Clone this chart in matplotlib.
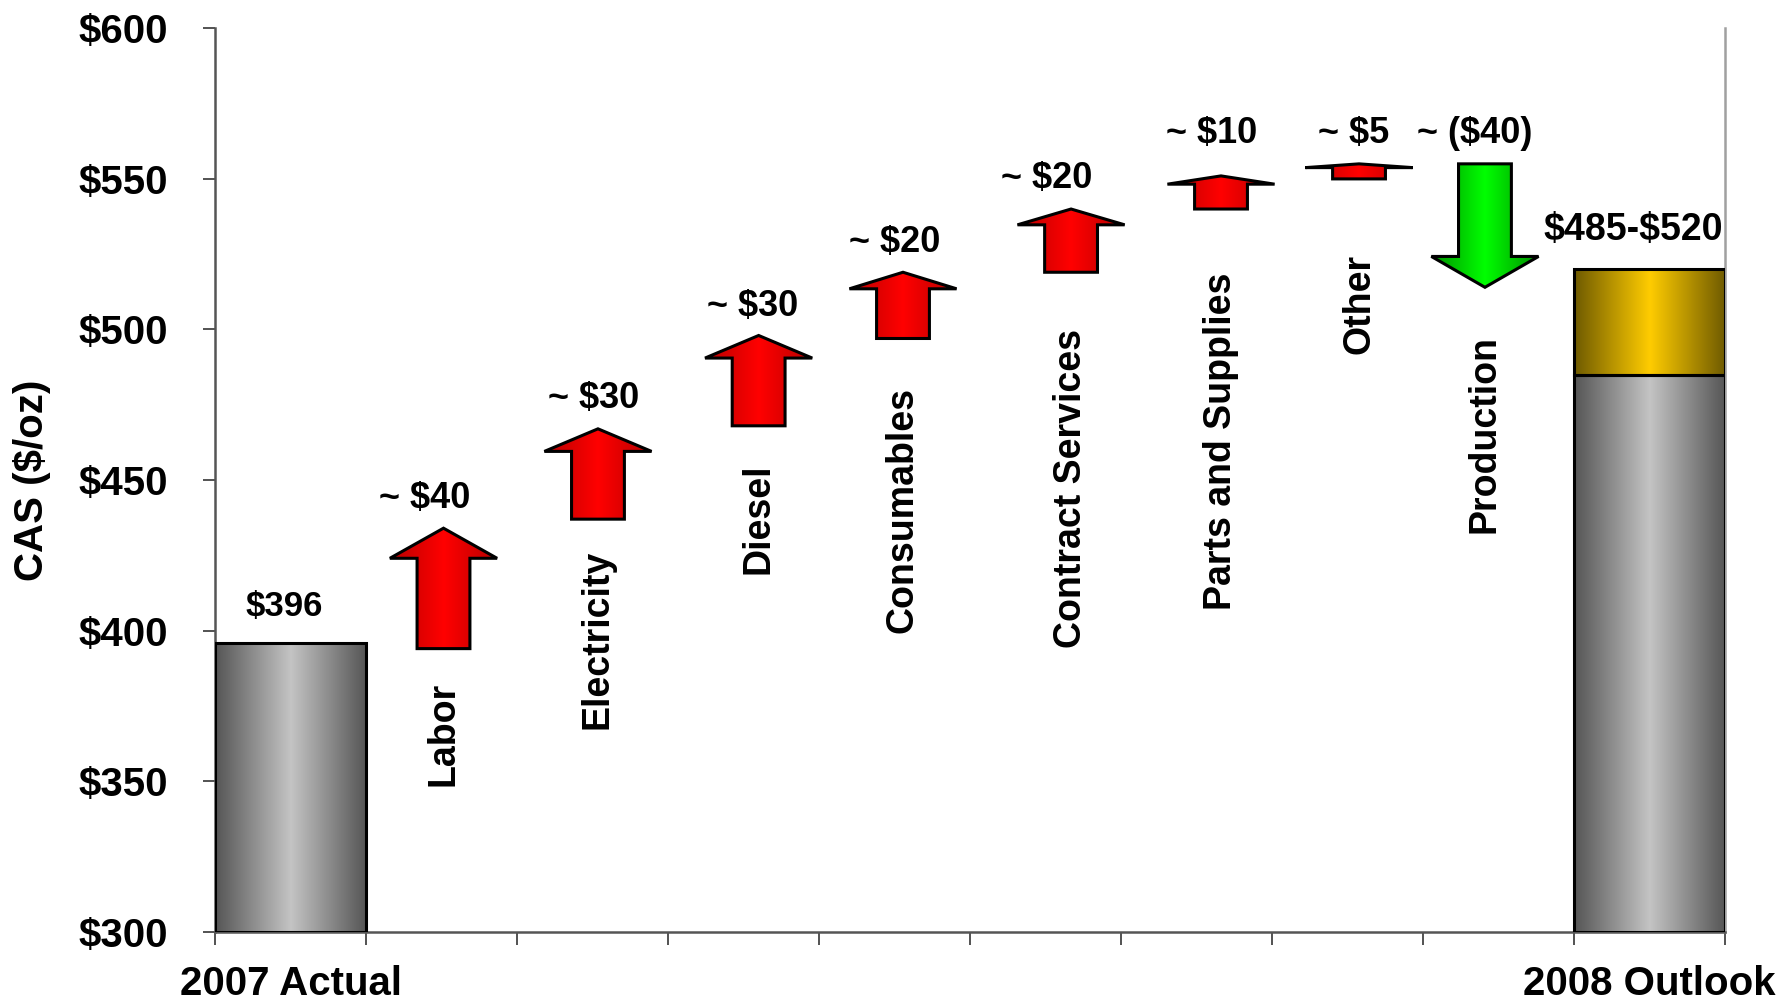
import numpy as np
import matplotlib
matplotlib.use("Agg")
import matplotlib.pyplot as plt
from matplotlib.patches import Polygon
from matplotlib.colors import LinearSegmentedColormap

# Data
categories = ['Labor', 'Electricity', 'Diesel', 'Consumables',
              'Contract Services', 'Parts and Supplies', 'Other', 'Production']
step_labels = ['~ $40', '~ $30', '~ $30', '~ $20', '~ $20', '~ $10', '~ $5', '~ ($40)']
arrow_start = [394, 437, 468, 497, 519, 540, 550, 555]
arrow_end = [434, 467, 498, 519, 540, 551, 555, 514]
actual_2007 = 396
outlook_low = 485
outlook_high = 520
end_labels = ['2007 Actual', '2008 Outlook']

# layout (slot units / data offsets)
arrow_x = [1.513, 2.536, 3.60, 4.556, 5.669, 6.662, 7.576, 8.41]
val_x = [1.39, 2.507, 3.56, 4.50, 5.51, 6.60, 7.54, 8.34]
val_gap = [10, 10, 9.5, 10, 10, 14, 10, 10]
cat_gap = [11, 10, 12.5, 16, 19, 21, 25, 16]
shaft_hw = 0.175
head_hw = 0.355

plt.rcParams['font.family'] = ['Liberation Sans', 'DejaVu Sans']
plt.rcParams['font.weight'] = 'bold'

fig = plt.figure(figsize=(17.83, 10.02), dpi=100)
ax = fig.add_axes([0.1206, 0.0702, 0.8469, 0.9015])
ax.set_xlim(0, 10)
ax.set_ylim(300, 600)


def cmap3(edge, mid):
    return LinearSegmentedColormap.from_list('g', [edge, mid, edge])


def grad_fill(patch, cmap, x0, x1, y0, y1):
    ax.add_patch(patch)
    grad = np.linspace(0, 1, 256).reshape(1, -1)
    im = ax.imshow(grad, cmap=cmap, extent=[x0, x1, y0, y1], aspect='auto',
                   origin='lower', zorder=2, interpolation='bicubic')
    im.set_clip_path(patch)
    edge = Polygon(patch.get_xy(), closed=True, facecolor='none',
                   edgecolor='black', lw=2.2, zorder=3, joinstyle='miter')
    ax.add_patch(edge)


gray = cmap3('#555555', '#c4c4c4')
gold = cmap3('#6e5a00', '#ffcc00')
red = cmap3('#b80000', '#ff0000')
green = cmap3('#009000', '#00ff00')

# 2007 actual bar
p = Polygon([(0, 300), (1, 300), (1, actual_2007), (0, actual_2007)], closed=True,
            facecolor='none', edgecolor='none', transform=ax.transData)
grad_fill(p, gray, 0, 1, 300, actual_2007)

# 2008 outlook bar (base + range)
p = Polygon([(9, 300), (10, 300), (10, outlook_low), (9, outlook_low)], closed=True,
            facecolor='none', edgecolor='none', transform=ax.transData)
grad_fill(p, gray, 9, 10, 300, outlook_low)
p = Polygon([(9, outlook_low), (10, outlook_low), (10, outlook_high), (9, outlook_high)],
            closed=True, facecolor='none', edgecolor='none', transform=ax.transData)
grad_fill(p, gold, 9, 10, outlook_low, outlook_high)

# arrows
for i in range(len(categories)):
    c = arrow_x[i]
    s = arrow_start[i]
    e = arrow_end[i]
    h = 0.25 * (e - s)
    pts = [(c - shaft_hw, s), (c + shaft_hw, s), (c + shaft_hw, e - h),
           (c + head_hw, e - h), (c, e), (c - head_hw, e - h), (c - shaft_hw, e - h)]
    p = Polygon(pts, closed=True, facecolor='none', edgecolor='none',
                transform=ax.transData)
    cm = red if e > s else green
    grad_fill(p, cm, c - head_hw, c + head_hw, min(s, e), max(s, e))

    ax.text(val_x[i], max(s, e) + val_gap[i], step_labels[i], ha='center', va='center',
            fontsize=26, fontweight='bold', zorder=4)
    ax.text(c, min(s, e) - cat_gap[i], categories[i], ha='center', va='top',
            rotation=90, fontsize=27, fontweight='bold', zorder=4)

ax.text(0.46, actual_2007 + 12, r'\$%d' % actual_2007, ha='center', va='center',
        fontsize=25, fontweight='bold')
ax.text(9.39, outlook_high + 13, r'\$%d-\$%d' % (outlook_low, outlook_high),
        ha='center', va='center', fontsize=27, fontweight='bold')

ax.set_xlim(0, 10)
ax.set_ylim(300, 600)

# axes styling
ax.set_yticks(np.arange(300, 601, 50))
ax.set_yticklabels(['$%d' % v for v in range(300, 601, 50)])
ax.set_xticks(np.arange(0, 11, 1))
ax.set_xticklabels([])
ax.set_xticks([0.5, 9.5], minor=True)
ax.set_xticklabels(end_labels, minor=True)
ax.tick_params(axis='x', which='minor', length=0, pad=24, labelsize=29)
ax.tick_params(axis='x', which='major', length=9, width=1.3, color='#444444')
ax.tick_params(axis='y', length=9, width=1.3, color='#444444', pad=25, labelsize=29)
for lab in ax.get_xticklabels(minor=True) + ax.get_yticklabels():
    lab.set_fontweight('bold')

ax.set_ylabel('CAS ($/oz)', fontsize=29, fontweight='bold')
ax.yaxis.set_label_coords(-0.1086, 0.5)

ax.spines['top'].set_visible(False)
ax.spines['left'].set_color('#555555')
ax.spines['bottom'].set_color('#555555')
ax.spines['right'].set_color('#a0a0a0')
for sp in ['left', 'bottom', 'right']:
    ax.spines[sp].set_linewidth(1.8)

fig.savefig('out.png', dpi=100)
